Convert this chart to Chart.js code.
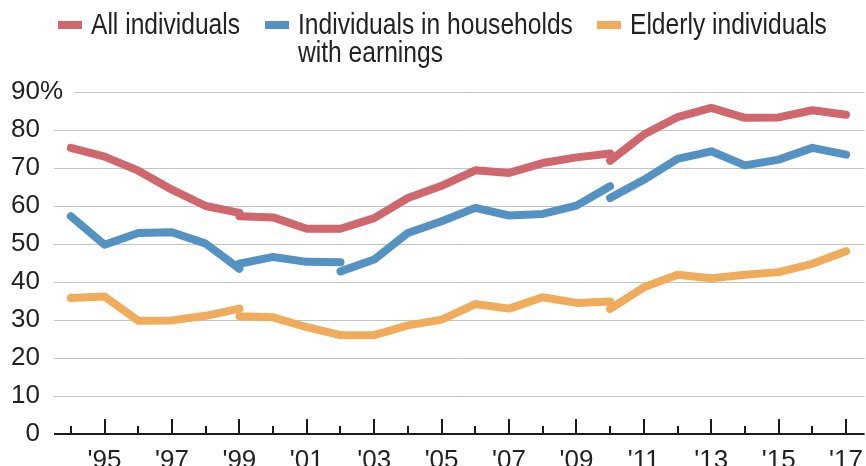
<!DOCTYPE html>
<html>
<head>
<meta charset="utf-8">
<script src="https://cdn.jsdelivr.net/npm/chart.js@4/dist/chart.umd.min.js"></script>
<style>
  html, body { margin: 0; padding: 0; background: #fff; }
  #wrap { position: relative; width: 866px; height: 466px; }
  #chart { position: absolute; left: 0; top: 0; }
  .legend-item { position: absolute; top: 10px; display: flex; align-items: flex-start; white-space: nowrap;
    font-family: 'Liberation Sans', Arial, sans-serif;
    font-size: 30px; line-height: 28px; color: #222; }
  .legend-item .swatch { width: 24px; height: 8px; margin-top: 11px; margin-right: 9px; flex: none; }
  .legend-item .txt { transform: scaleX(0.82); transform-origin: 0 0; }
</style>
</head>
<body>
<div id="wrap">
  <canvas id="chart" width="866" height="466"></canvas>
</div>
<script>
const FONT = "'Liberation Sans', Arial, sans-serif";
const RED = '#d0676c';
const BLUE = '#5592c4';
const ORANGE = '#f0ac5b';

const years = [1994, 1995, 1996, 1997, 1998, 1999, 2000, 2001, 2002, 2003, 2004, 2005,
  2006, 2007, 2008, 2009, 2010, 2011, 2012, 2013, 2014, 2015, 2016, 2017];

// value at a break year = end of the older series; the restart value begins the new one
const allIndividuals = [75.3, 73.0, 69.3, 64.3, 60.0, 58.2, 57.0, 54.0, 54.0, 56.8, 62.1, 65.3,
  69.4, 68.7, 71.3, 72.8, 73.8, 78.8, 83.4, 85.8, 83.2, 83.3, 85.2, 84.0];
const allIndividualsRestart = { 1999: 57.3, 2010: 71.9 };

const withEarnings = [57.3, 49.8, 52.9, 53.1, 50.1, 43.5, 46.6, 45.3, 45.2, 45.9, 52.9, 56.0,
  59.5, 57.5, 57.9, 60.1, 65.2, 66.9, 72.4, 74.4, 70.7, 72.2, 75.3, 73.5];
const withEarningsRestart = { 1999: 44.8, 2002: 42.8, 2010: 62.1 };

const elderly = [35.8, 36.2, 29.8, 29.9, 31.1, 33.0, 30.7, 28.1, 26.0, 26.0, 28.6, 30.1,
  34.2, 33.0, 36.0, 34.5, 34.9, 38.6, 41.9, 41.0, 41.9, 42.6, 44.8, 48.1];
const elderlyRestart = { 1999: 31.0, 2010: 32.9 };

const seriesLabels = ['All individuals', ['Individuals in households', 'with earnings'], 'Elderly individuals'];
const seriesColors = [RED, BLUE, ORANGE];
const legendLefts = [58, 265, 597];

const yTicks = [0, 10, 20, 30, 40, 50, 60, 70, 80, 90];

function buildPoints(values, restarts) {
  const pts = [];
  years.forEach((yr, i) => {
    pts.push({ x: yr, y: values[i] });
    if (restarts[yr] !== undefined) {
      pts.push({ x: yr, y: null });
      pts.push({ x: yr, y: restarts[yr] });
    }
  });
  return pts;
}

function lineSet(label, pts, color) {
  return {
    label,
    data: pts,
    borderColor: color,
    borderWidth: 8,
    borderCapStyle: 'round',
    borderJoinStyle: 'round',
    pointRadius: 0,
    tension: 0,
    spanGaps: false,
  };
}

// legend (html, so the second label can wrap onto two lines)
const wrap = document.getElementById('wrap');
seriesLabels.forEach((lab, i) => {
  const item = document.createElement('div');
  item.className = 'legend-item';
  item.style.left = legendLefts[i] + 'px';
  const sw = document.createElement('div');
  sw.className = 'swatch';
  sw.style.background = seriesColors[i];
  const txt = document.createElement('div');
  txt.className = 'txt';
  const lines = Array.isArray(lab) ? lab : [lab];
  lines.forEach(l => {
    const d = document.createElement('div');
    d.textContent = l;
    txt.appendChild(d);
  });
  item.appendChild(sw);
  item.appendChild(txt);
  wrap.appendChild(item);
});

// grid lines, axis line and upward tick marks
const axisDecor = {
  id: 'axisDecor',
  beforeDatasetsDraw(chart) {
    const { ctx, chartArea, scales } = chart;
    const xs = scales.x, ys = scales.y;
    ctx.save();
    ctx.strokeStyle = '#c4c4c4';
    ctx.lineWidth = 1;
    yTicks.forEach(v => {
      if (v === 0) return;
      const y = Math.round(ys.getPixelForValue(v)) + 0.5;
      const x0 = v === ys.max ? chartArea.left + 20 : chartArea.left;
      ctx.beginPath();
      ctx.moveTo(x0, y);
      ctx.lineTo(chartArea.right, y);
      ctx.stroke();
    });
    ctx.strokeStyle = '#1a1a1a';
    ctx.lineWidth = 2;
    const yb = ys.getPixelForValue(0);
    ctx.beginPath();
    ctx.moveTo(chartArea.left, yb);
    ctx.lineTo(chartArea.right, yb);
    ctx.stroke();
    years.forEach(yr => {
      const x = Math.round(xs.getPixelForValue(yr));
      const len = yr % 2 === 1 ? 15 : 8;
      ctx.beginPath();
      ctx.moveTo(x, yb);
      ctx.lineTo(x, yb - len);
      ctx.stroke();
    });
    ctx.restore();
  },
  afterDraw(chart) {
    const { ctx, scales } = chart;
    const ys = scales.y;
    ctx.save();
    ctx.font = '26px ' + FONT;
    ctx.fillStyle = '#222';
    ctx.textAlign = 'left';
    ctx.textBaseline = 'middle';
    ctx.fillText('%', ys.right - 14, ys.getPixelForValue(ys.max));
    ctx.restore();
  }
};

Chart.defaults.font.family = FONT;
Chart.defaults.color = '#222';

new Chart(document.getElementById('chart'), {
  type: 'line',
  data: {
    datasets: [
      lineSet('Elderly individuals', buildPoints(elderly, elderlyRestart), ORANGE),
      lineSet('Individuals in households with earnings', buildPoints(withEarnings, withEarningsRestart), BLUE),
      lineSet('All individuals', buildPoints(allIndividuals, allIndividualsRestart), RED),
    ],
  },
  options: {
    responsive: false,
    animation: false,
    layout: { padding: { top: 92, left: 0, right: 0, bottom: 0 } },
    plugins: {
      legend: { display: false },
      tooltip: { enabled: false },
    },
    scales: {
      x: {
        type: 'linear',
        min: 1993.5,
        max: 2017.55,
        grid: { display: false },
        border: { display: false },
        afterBuildTicks: s => { s.ticks = years.map(v => ({ value: v })); },
        afterFit: s => { s.height = 32; },
        ticks: {
          autoSkip: false,
          maxRotation: 0,
          padding: 3,
          font: { size: 26, lineHeight: 1.2 },
          color: '#222',
          callback: v => (v % 2 === 1 ? "'" + String(v).slice(2) : ''),
        },
      },
      y: {
        min: 0,
        max: 90,
        grid: { display: false, drawTicks: false },
        border: { display: false },
        afterBuildTicks: s => { s.ticks = yTicks.map(v => ({ value: v })); },
        afterFit: s => { s.width = 54; },
        ticks: {
          padding: 14,
          font: { size: 26 },
          color: '#222',
          callback: v => String(v),
        },
      },
    },
  },
  plugins: [axisDecor],
});
</script>
</body>
</html>
